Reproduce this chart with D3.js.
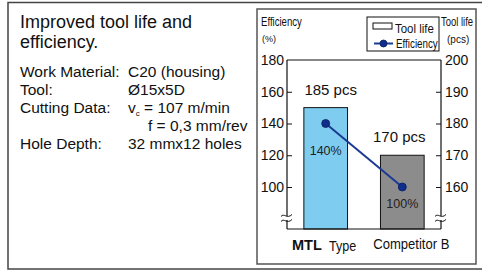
<!DOCTYPE html>
<html>
<head>
<meta charset="utf-8">
<script src="https://cdn.jsdelivr.net/npm/d3@7"></script>
<style>
  body { margin: 0; background: #fff; }
  svg { display: block; font-family: "Liberation Sans", Arial, sans-serif; }
</style>
</head>
<body>
<svg id="chart" width="482" height="271"></svg>
<script>
const categories = ["MTL Type", "Competitor B"];
const toolLife = [185, 170];
const efficiency = [140, 100];
const effTicks = [100, 120, 140, 160, 180];
const lifeTicks = [160, 170, 180, 190, 200];

const infoLabels = ["Work Material:", "Tool:", "Cutting Data:", "", "Hole Depth:"];
const infoValues = ["C20 (housing)", "Ø15x5D", "vc", "f = 0,3 mm/rev", "32 mmx12 holes"];

const svg = d3.select("#chart");

// narrow text (squeezed sideways, like the original's condensed font)
let narrow = (parent, x, y, txt, size, sx, anchor) => {
  return parent.append("text")
    .attr("transform", `translate(${x},${y}) scale(${sx},1)`)
    .attr("font-size", size).attr("fill", "#111")
    .attr("text-anchor", anchor || "start")
    .text(txt);
};

// frames
svg.append("rect")
  .attr("x", 8).attr("y", 2.5).attr("width", 480).attr("height", 266.5)
  .attr("fill", "none").attr("stroke", "#444").attr("stroke-width", 1.5);

svg.append("rect")
  .attr("x", 257).attr("y", 9).attr("width", 219).attr("height", 255)
  .attr("fill", "#fff").attr("stroke", "#555").attr("stroke-width", 1.5);

// left text block
svg.append("text").attr("x", 20).attr("y", 28).attr("font-size", 18).attr("fill", "#111").text("Improved tool life and");
svg.append("text").attr("x", 20).attr("y", 48).attr("font-size", 18).attr("fill", "#111").text("efficiency.");

infoLabels.forEach((lab, i) => {
  let y = 77 + i * 18;
  if (lab) svg.append("text").attr("x", 20).attr("y", y).attr("font-size", 15.5).attr("fill", "#111").text(lab);
  let t = svg.append("text").attr("x", i == 3 ? 148 : 128).attr("y", y).attr("font-size", 15.5).attr("fill", "#111");
  if (infoValues[i] == "vc") {
    t.append("tspan").text("v");
    t.append("tspan").attr("font-size", 8).attr("dy", 3).text("c");
    t.append("tspan").attr("dy", -3).text(" = 107 m/min");
  } else {
    t.text(infoValues[i]);
  }
});

// chart
const pLeft = 287, pRight = 441, pTop = 60, pBottom = 229;

const yEff = d3.scaleLinear().domain([100, 180]).range([187, pTop]);
const yLife = d3.scaleLinear().domain([160, 200]).range([187, pTop]);
const x = d3.scaleBand().domain(categories).range([pLeft, pRight])
  .paddingInner(0.43).paddingOuter(0.22);

// bars
svg.selectAll(".bar").data(categories).enter().append("rect")
  .attr("class", "bar")
  .attr("x", d => x(d))
  .attr("y", (d, i) => yLife(toolLife[i]))
  .attr("width", x.bandwidth())
  .attr("height", (d, i) => pBottom - yLife(toolLife[i]))
  .attr("fill", (d, i) => i == 0 ? "#7ecdf0" : "#8c8c8c")
  .attr("stroke", "#111").attr("stroke-width", 1);

// frame lines
const frame = svg.append("g").attr("stroke", "#111").attr("stroke-width", 1.2).attr("fill", "none");
frame.append("line").attr("x1", pLeft).attr("x2", pRight).attr("y1", pTop).attr("y2", pTop);
frame.append("line").attr("x1", pLeft).attr("x2", pRight).attr("y1", pBottom).attr("y2", pBottom);
frame.append("line").attr("x1", pLeft).attr("x2", pLeft).attr("y1", pTop).attr("y2", pBottom);
frame.append("line").attr("x1", pRight).attr("x2", pRight).attr("y1", pTop).attr("y2", pBottom);

// axes
const axL = svg.append("g").attr("transform", `translate(${pLeft},0)`)
  .call(d3.axisLeft(yEff).tickValues(effTicks).tickSize(-5).tickPadding(3));
const axR = svg.append("g").attr("transform", `translate(${pRight},0)`)
  .call(d3.axisRight(yLife).tickValues(lifeTicks).tickSize(-5).tickPadding(4));
[axL, axR].forEach(a => {
  a.select(".domain").remove();
  a.selectAll("text").attr("font-size", 14).attr("font-family", "Liberation Sans, Arial, sans-serif").attr("fill", "#111");
  a.selectAll("line").attr("stroke", "#111");
});
axL.selectAll(".tick").filter(d => d == 180).select("line").remove();
axR.selectAll(".tick").filter(d => d == 200).select("line").remove();

// axis break marks
[pLeft, pRight].forEach(ax => {
  let yb = 218;
  svg.append("rect").attr("x", ax - 2).attr("y", yb - 2).attr("width", 4).attr("height", 4).attr("fill", "#fff");
  [-2.5, 2.5].forEach(off => {
    svg.append("path")
      .attr("d", `M${ax - 6},${yb + off + 1} C${ax - 3},${yb + off - 3} ${ax},${yb + off + 4} ${ax + 5},${yb + off - 1}`)
      .attr("fill", "none").attr("stroke", "#111").attr("stroke-width", 1);
  });
});

// efficiency line
const cx = d => x(d) + x.bandwidth() / 2;
svg.append("path")
  .datum(categories)
  .attr("d", d3.line().x(d => cx(d)).y((d, i) => yEff(efficiency[i])))
  .attr("fill", "none").attr("stroke", "#1b3a94").attr("stroke-width", 2);
svg.selectAll(".dot").data(categories).enter().append("circle")
  .attr("cx", d => cx(d)).attr("cy", (d, i) => yEff(efficiency[i]))
  .attr("r", 4).attr("fill", "#0f2e8c").attr("stroke", "#0a1f60").attr("stroke-width", 0.8);

// value labels
svg.selectAll(".life").data(categories).enter().append("text")
  .attr("x", (d, i) => cx(d) + (i == 0 ? 5 : -3))
  .attr("y", (d, i) => yLife(toolLife[i]) - 13)
  .attr("text-anchor", "middle").attr("font-size", 15).attr("fill", "#111")
  .text((d, i) => toolLife[i] + " pcs");
svg.selectAll(".eff").data(categories).enter().append("text")
  .attr("x", d => cx(d))
  .attr("y", (d, i) => yEff(efficiency[i]) + (i == 0 ? 31 : 21))
  .attr("text-anchor", "middle").attr("font-size", 12.5).attr("fill", "#222")
  .text((d, i) => efficiency[i] + "%");

// category labels
svg.append("text").attr("x", 292).attr("y", 250).attr("fill", "#111")
  .attr("font-weight", "bold").attr("font-size", 14.5).text("MTL");
narrow(svg, 329, 251, "Type", 15, 0.84);
narrow(svg, cx(categories[1]) + 9, 249, categories[1], 15, 0.87, "middle");

// axis titles
narrow(svg, 261, 26, "Efficiency", 12, 0.8);
svg.append("text").attr("x", 262).attr("y", 42).attr("font-size", 9).attr("fill", "#111").text("(%)");
narrow(svg, 441, 26, "Tool life", 12, 0.79);
svg.append("text").attr("x", 447).attr("y", 42.5).attr("font-size", 10).attr("fill", "#111").text("(pcs)");

// legend
const lg = svg.append("g");
lg.append("rect").attr("x", 367).attr("y", 17).attr("width", 72).attr("height", 34)
  .attr("fill", "#fff").attr("stroke", "#111").attr("stroke-width", 1);
lg.append("rect").attr("x", 373).attr("y", 23).attr("width", 19).attr("height", 6)
  .attr("fill", "#fff").attr("stroke", "#111").attr("stroke-width", 1);
narrow(lg, 395, 33, "Tool life", 13, 0.88);
lg.append("line").attr("x1", 374).attr("x2", 393).attr("y1", 43.5).attr("y2", 43.5)
  .attr("stroke", "#1b3a94").attr("stroke-width", 2);
lg.append("circle").attr("cx", 383.5).attr("cy", 43.5).attr("r", 3.5)
  .attr("fill", "#0f2e8c").attr("stroke", "#0a1f60").attr("stroke-width", 0.8);
narrow(lg, 396, 48, "Efficiency", 13, 0.755);
</script>
</body>
</html>
